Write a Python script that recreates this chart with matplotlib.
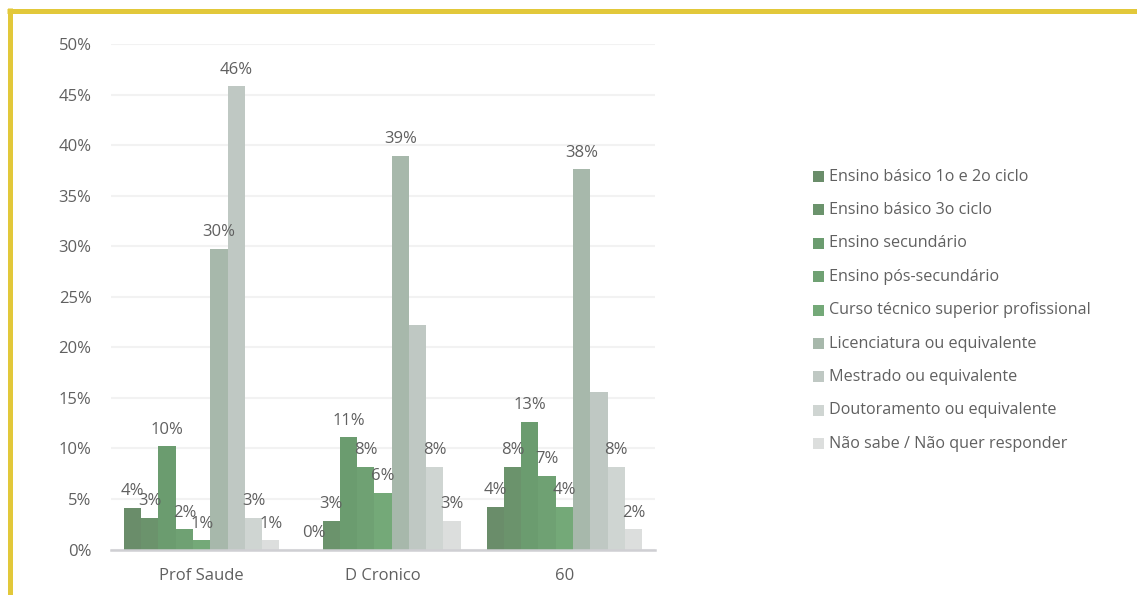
import numpy as np
import matplotlib
matplotlib.use("Agg")
import matplotlib.pyplot as plt
from matplotlib.patches import Rectangle
from matplotlib.lines import Line2D

plt.rcParams['font.family'] = ['Open Sans', 'DejaVu Sans']

groups = ["Prof Saude", "D Cronico", "60"]
series = [
    "Ensino básico 1o e 2o ciclo",
    "Ensino básico 3o ciclo",
    "Ensino secundário",
    "Ensino pós-secundário",
    "Curso técnico superior profissional",
    "Licenciatura ou equivalente",
    "Mestrado ou equivalente",
    "Doutoramento ou equivalente",
    "Não sabe / Não quer responder",
]
# percentage per group, one list per education level
basico_12 = [4.1, 0.0, 4.2]
basico_3 = [3.1, 2.8, 8.2]
secundario = [10.2, 11.1, 12.6]
pos_secundario = [2.0, 8.2, 7.3]
ctsp = [0.9, 5.6, 4.2]
licenciatura = [29.7, 38.9, 37.6]
mestrado = [45.8, 22.2, 15.6]
doutoramento = [3.1, 8.2, 8.2]
nao_sabe = [0.9, 2.8, 2.0]
values = [basico_12, basico_3, secundario, pos_secundario, ctsp,
          licenciatura, mestrado, doutoramento, nao_sabe]
# which bars carry a data label (some are suppressed)
show_label = [
    [True, True, True],
    [True, True, True],
    [True, True, True],
    [True, True, True],
    [True, True, True],
    [True, True, True],
    [True, False, False],
    [True, True, True],
    [True, True, True],
]
colors = ["#6a8d6a", "#6b936c", "#6b9c6f", "#6fa173", "#74a978",
          "#a7b8ab", "#bfc8c3", "#cfd5d2", "#dcdedd"]

TXT = "#606060"
W, H = 1137, 595
fig = plt.figure(figsize=(W / 100, H / 100), dpi=100)
fig.patch.set_facecolor("white")

# yellow frame on top and left
fig.add_artist(Line2D([7 / W, 1.0], [1 - 10.5 / H, 1 - 10.5 / H], color="#e2c83a",
                      lw=3.6, solid_capstyle="butt", transform=fig.transFigure))
fig.add_artist(Line2D([9.5 / W, 9.5 / W], [0, 1 - 8 / H], color="#e2c83a",
                      lw=3.6, solid_capstyle="butt", transform=fig.transFigure))

ax_l, ax_r = 111, 655
y0, y50 = 549.5, 44
ax = fig.add_axes([ax_l / W, 1 - y0 / H, (ax_r - ax_l) / W, (y0 - y50) / H])

n = len(series)
bw = 1.0 / (n + 1.5)
x = np.arange(len(groups))
for i, (vals, col) in enumerate(zip(values, colors)):
    pos = x + (i - (n - 1) / 2) * bw
    ax.bar(pos, vals, width=bw, color=col, edgecolor="none", zorder=3)
    for p, v, s in zip(pos, vals, show_label[i]):
        if s:
            ax.annotate(f"{round(v):d}%", (p, v), xytext=(0, 9.2),
                        textcoords="offset points", ha="center", va="baseline",
                        fontsize=12, color=TXT, zorder=4)

ax.set_xlim(-0.5, len(groups) - 0.5)
ax.set_ylim(0, 50)
ax.set_yticks(np.arange(0, 51, 5))
ax.set_yticklabels([f"{t}%" for t in range(0, 51, 5)])
ax.set_xticks(x)
ax.set_xticklabels(groups)
ax.tick_params(axis="both", length=0, labelsize=12, labelcolor=TXT)
ax.tick_params(axis="y", pad=14)
ax.tick_params(axis="x", pad=13.5)
ax.grid(axis="y", color="#f2f2f2", lw=1.5, zorder=0)
for s in ["top", "right", "left"]:
    ax.spines[s].set_visible(False)
ax.spines["bottom"].set_color("#cfcfd3")
ax.spines["bottom"].set_linewidth(1.8)
ax.spines["bottom"].set_zorder(5)

# legend
leg_x, leg_y, step = 813, 176.5, 33.4
for i, (name, col) in enumerate(zip(series, colors)):
    yc = leg_y + i * step
    fig.add_artist(Rectangle((leg_x / W, 1 - (yc + 5.5) / H), 11 / W, 11 / H,
                             facecolor=col, edgecolor="none", transform=fig.transFigure))
    fig.text(829 / W, 1 - yc / H, name, fontsize=11.6, color=TXT,
             va="center", ha="left")

fig.savefig("out.png", dpi=100, facecolor="white")
